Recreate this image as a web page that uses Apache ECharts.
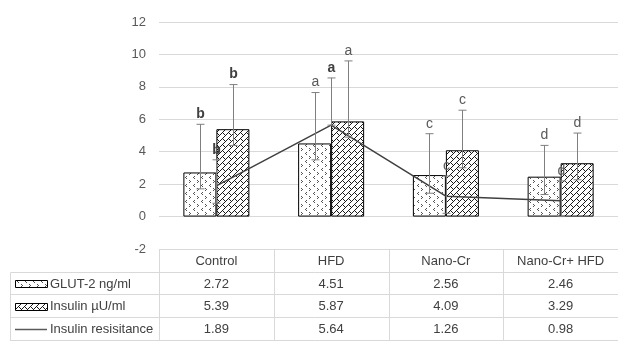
<!DOCTYPE html>
<html>
<head>
<meta charset="utf-8">
<script src="https://cdn.jsdelivr.net/npm/echarts@6/dist/echarts.min.js"></script>
<style>
  html, body { margin: 0; padding: 0; background: #fff; }
  #main { width: 618px; height: 341px; }
</style>
</head>
<body>
<div id="main"></div>
<script>
// groups
const categories = ['Control', 'HFD', 'Nano-Cr', 'Nano-Cr+ HFD'];

// series values
const glut = [2.72, 4.51, 2.56, 2.46];
const insulin = [5.39, 5.87, 4.09, 3.29];
const resist = [1.89, 5.64, 1.26, 0.98];

// error bars (low / high ends)
const glutLow = [1.71, 3.5, 1.44, 1.36];
const glutHigh = [5.69, 7.65, 5.11, 4.39];
const insulinLow = [4.39, 4.9, 3.01, 2.27];
const insulinHigh = [8.14, 9.6, 6.56, 5.15];
const resistLow = [0.82, 5.64, 0.2, 0];
const resistHigh = [3.5, 8.55, 2.5, 2.2];

// significance letters
const glutLetters = ['b', 'a', 'c', 'd'];
const insulinLetters = ['b', 'a', 'c', 'd'];
const resistLetters = ['b', 'a', 'c', 'd'];

// y ticks
const yTicks = [-2, 0, 2, 4, 6, 8, 10, 12];

const seriesNames = ['GLUT-2 ng/ml', 'Insulin µU/ml', 'Insulin resisitance'];
const FONT = '"Liberation Sans", Arial, sans-serif';

// fill patterns like the excel ones
function dotTile() {
  var c = document.createElement('canvas');
  c.width = 8; c.height = 8;
  var ctx = c.getContext('2d');
  ctx.fillStyle = '#fff';
  ctx.fillRect(0, 0, 8, 8);
  ctx.fillStyle = '#555';
  // "<"
  ctx.fillRect(2, 0, 1, 1); ctx.fillRect(1, 1, 1, 1); ctx.fillRect(2, 2, 1, 1);
  // ">"
  ctx.fillRect(5, 4, 1, 1); ctx.fillRect(6, 5, 1, 1); ctx.fillRect(5, 6, 1, 1);
  return c;
}
// diagonal brick: "/" rows with staggered "\" joints
function brickTile() {
  var n = 12;
  var c = document.createElement('canvas');
  c.width = n; c.height = n;
  var ctx = c.getContext('2d');
  ctx.fillStyle = '#fff';
  ctx.fillRect(0, 0, n, n);
  ctx.fillStyle = '#1a1a1a';
  for (var x = 0; x < n; x++) {
    for (var y = 0; y < n; y++) {
      var u = x + y;
      var v = (((x - y) % n) + n) % n;
      var k = Math.floor(u / 6) % 2;
      if (u % 6 === 0 || v === 6 * k) ctx.fillRect(x, y, 1, 1);
    }
  }
  return c;
}
const dotImg = dotTile();
const brickImg = brickTile();

// error bars + letters drawn by a custom series
function errSeries(low, high, letters, bold, dx) {
  return {
    type: 'custom',
    z: 5,
    silent: true,
    data: high.map(function (v, i) { return [i, v]; }),
    renderItem: function (params, api) {
      var i = params.dataIndex;
      var top = api.coord([i, high[i]]);
      var bot = api.coord([i, low[i]]);
      var x = Math.round(top[0] + dx) + 0.5;
      var st = { stroke: '#7f7f7f', lineWidth: 1 };
      var isBold = bold[i];
      return {
        type: 'group',
        children: [
          { type: 'line', shape: { x1: x, y1: top[1], x2: x, y2: bot[1] }, style: st },
          { type: 'line', shape: { x1: x - 4, y1: top[1], x2: x + 4, y2: top[1] }, style: st },
          { type: 'line', shape: { x1: x - 4, y1: bot[1], x2: x + 4, y2: bot[1] }, style: st },
          {
            type: 'text',
            style: {
              text: letters[i], x: x, y: top[1] - 3,
              align: 'center', verticalAlign: 'bottom',
              textAlign: 'center', textVerticalAlign: 'bottom',
              fill: isBold ? '#404040' : '#595959',
              fontSize: 14, fontWeight: isBold ? 'bold' : 'normal',
              fontFamily: FONT
            }
          }
        ]
      };
    }
  };
}

let chart = echarts.init(document.getElementById('main'));

let option = {
  animation: false,
  textStyle: { fontFamily: FONT },
  grid: { left: 159, right: 0, top: 22, bottom: 92 },
  xAxis: {
    type: 'category',
    data: categories,
    axisLine: { show: false },
    axisTick: { show: false },
    axisLabel: { show: false }
  },
  yAxis: {
    type: 'value',
    min: yTicks[0],
    max: yTicks[yTicks.length - 1],
    interval: 2,
    axisLine: { show: false },
    axisTick: { show: false },
    axisLabel: { color: '#595959', fontSize: 13, margin: 13, fontFamily: FONT },
    splitLine: { lineStyle: { color: '#d9d9d9', width: 1 } }
  },
  series: [
    {
      name: seriesNames[0],
      type: 'bar',
      data: glut,
      barWidth: 33,
      barGap: '0%',
      z: 2,
      itemStyle: { color: { image: dotImg, repeat: 'repeat' }, borderColor: '#000', borderWidth: 1 }
    },
    {
      name: seriesNames[1],
      type: 'bar',
      data: insulin,
      barWidth: 33,
      barGap: '0%',
      z: 2,
      itemStyle: { color: { image: brickImg, repeat: 'repeat' }, borderColor: '#000', borderWidth: 1 }
    },
    {
      name: seriesNames[2],
      type: 'line',
      data: resist,
      z: 4,
      symbol: 'none',
      lineStyle: { color: '#404040', width: 1.5 }
    },
    errSeries(glutLow, glutHigh, glutLetters, [true, false, false, false], -16.5),
    errSeries(insulinLow, insulinHigh, insulinLetters, [true, false, false, false], 16.5),
    errSeries(resistLow, resistHigh, resistLetters, [true, true, false, false], 0)
  ]
};
chart.setOption(option);

// data table under the plot, lined up with the category axis
function buildTable() {
  var c0 = chart.convertToPixel({ xAxisIndex: 0 }, 0);
  var c1 = chart.convertToPixel({ xAxisIndex: 0 }, 1);
  var colW = c1 - c0;
  var top = Math.round(chart.convertToPixel({ yAxisIndex: 0 }, yTicks[0])) + 0.5;
  var rowH = 22.7;
  var left = 10.5;
  var gridLeft = Math.round(c0 - colW / 2) + 0.5;
  var right = 618;
  var line = { stroke: '#d9d9d9', lineWidth: 1 };
  var els = [];
  var rows = [glut, insulin, resist];

  // horizontal rules
  els.push({ type: 'line', shape: { x1: gridLeft, y1: top, x2: right, y2: top }, style: line });
  for (var r = 1; r <= 4; r++) {
    var y = top + Math.round(r * rowH);
    els.push({ type: 'line', shape: { x1: left, y1: y, x2: right, y2: y }, style: line });
  }
  // vertical rules
  els.push({ type: 'line', shape: { x1: left, y1: top + Math.round(rowH), x2: left, y2: 341 }, style: line });
  for (var k = 0; k <= categories.length; k++) {
    var x = Math.round(c0 - colW / 2 + k * colW) + 0.5;
    els.push({ type: 'line', shape: { x1: x, y1: top, x2: x, y2: 341 }, style: line });
  }

  var txt = function (s, x, y, align) {
    return {
      type: 'text',
      style: {
        text: s, x: x, y: y,
        align: align, verticalAlign: 'middle',
        textAlign: align, textVerticalAlign: 'middle',
        fill: '#404040', fontSize: 13, fontFamily: FONT
      }
    };
  };

  // header
  categories.forEach(function (name, i) {
    els.push(txt(name, c0 + i * colW, top + rowH / 2 + 1, 'center'));
  });
  // rows
  rows.forEach(function (vals, r) {
    var yc = top + (r + 1) * rowH + rowH / 2 + 0.5;
    vals.forEach(function (v, i) {
      els.push(txt(v.toFixed(2), c0 + i * colW, yc, 'center'));
    });
    els.push(txt(seriesNames[r], 50, yc, 'left'));
    if (r < 2) {
      els.push({
        type: 'rect',
        shape: { x: 15.5, y: Math.round(yc - 4) + 0.5, width: 32, height: 7 },
        style: { fill: { type: 'pattern', image: r === 0 ? dotImg : brickImg, repeat: 'repeat' }, stroke: '#000', lineWidth: 1 }
      });
    } else {
      els.push({ type: 'line', shape: { x1: 15, y1: Math.round(yc) + 0.5, x2: 47, y2: Math.round(yc) + 0.5 }, style: { stroke: '#595959', lineWidth: 1.5 } });
    }
  });

  chart.setOption({ graphic: els });
}
buildTable();
</script>
</body>
</html>
